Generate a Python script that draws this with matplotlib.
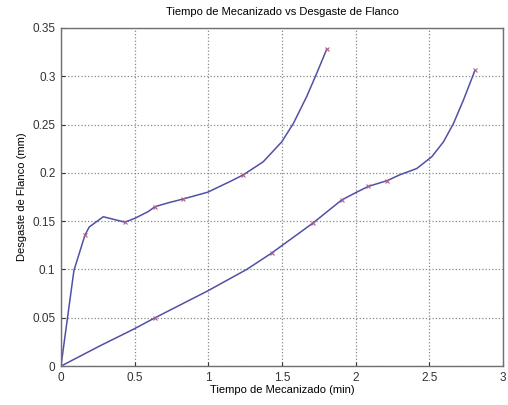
import matplotlib.pyplot as plt

# Curva 1 (tiempo en min, desgaste en mm)
t1 = [0, 0.088, 0.163, 0.192, 0.287, 0.434, 0.502, 0.593, 0.638, 0.728,
      0.83, 0.996, 1.147, 1.238, 1.373, 1.498, 1.577, 1.668, 1.736, 1.804]
vb1 = [0, 0.099, 0.1356, 0.144, 0.1546, 0.149, 0.153, 0.160, 0.165, 0.169,
       0.173, 0.180, 0.191, 0.198, 0.2115, 0.232, 0.251, 0.279, 0.303, 0.328]
marks1 = [0, 2, 5, 8, 10, 13, 19]

# Curva 2
t2 = [0, 0.265, 0.49, 0.638, 0.993, 1.26, 1.43, 1.71, 1.906, 2.007,
      2.086, 2.215, 2.30, 2.415, 2.517, 2.596, 2.664, 2.731, 2.81]
vb2 = [0, 0.021, 0.038, 0.050, 0.0776, 0.10, 0.117, 0.148, 0.172, 0.180,
       0.186, 0.192, 0.198, 0.2045, 0.2167, 0.232, 0.251, 0.275, 0.306]
marks2 = [0, 3, 6, 7, 8, 10, 11, 18]

xticks = [0, 0.5, 1, 1.5, 2, 2.5, 3]
yticks = [0, 0.05, 0.1, 0.15, 0.2, 0.25, 0.3, 0.35]

plt.rcParams['font.family'] = ['Liberation Sans', 'DejaVu Sans']

fig = plt.figure(figsize=(5.08, 4.05), dpi=100)
ax = fig.add_axes([0.120, 0.096, 0.870, 0.835])

for t, vb, mk in [(t1, vb1, marks1), (t2, vb2, marks2)]:
    ax.plot(t, vb, color='#5050a8', linewidth=1.1)
    ax.plot([t[i] for i in mk], [vb[i] for i in mk], 'x',
            color='#b0608a', markersize=3.5, markeredgewidth=0.8)

ax.set_xlim(0, 3)
ax.set_ylim(0, 0.35)
ax.set_xticks(xticks)
ax.set_xticklabels(['0', '0.5', '1', '1.5', '2', '2.5', '3'])
ax.set_yticks(yticks)
ax.set_yticklabels(['0', '0.05', '0.1', '0.15', '0.2', '0.25', '0.3', '0.35'])
ax.tick_params(direction='in', labelsize=8.5, length=3, colors='#333333', pad=4)
ax.grid(True, linestyle=':', color='#888888', linewidth=0.9)
for s in ax.spines.values():
    s.set_color('#707070')
    s.set_linewidth(1.0)

ax.set_title('Tiempo de Mecanizado vs Desgaste de Flanco', fontsize=8, pad=9)
ax.set_xlabel('Tiempo de Mecanizado (min)', fontsize=8, labelpad=1)
ax.set_ylabel('Desgaste de Flanco (mm)', fontsize=8, labelpad=4)

fig.savefig('out.png', dpi=100)
